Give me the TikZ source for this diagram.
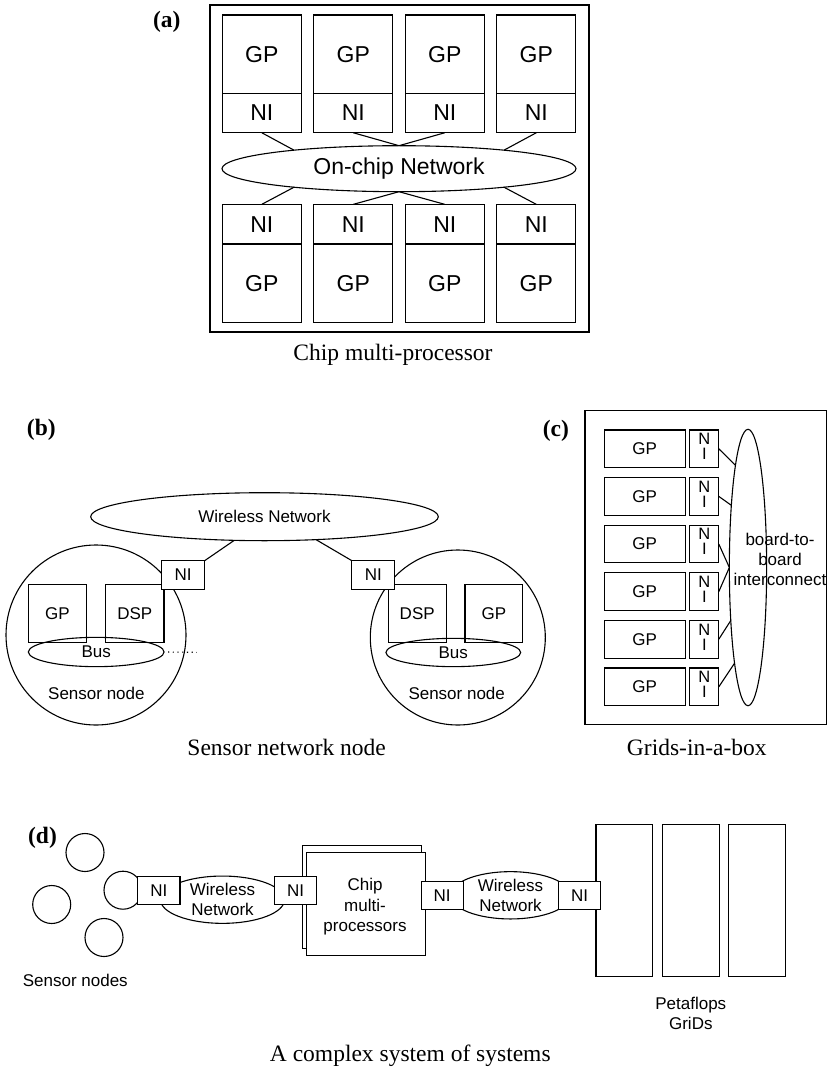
\documentclass[tikz,border=0pt]{standalone}
\usepackage{fontspec}
\setmainfont{Liberation Serif}
\newfontfamily\arialfont{Liberation Sans}
\usetikzlibrary{shapes.geometric,positioning}

\begin{document}
\begin{tikzpicture}[x=1pt,y=-1pt,line width=1.1pt]
  \tikzstyle{box}=[draw,rectangle,fill=white,inner sep=0pt,outer sep=0pt]
  \tikzstyle{net}=[draw,ellipse,inner sep=0pt,outer sep=0pt]
  \tikzstyle{ring}=[draw,circle,inner sep=0pt]
  \tikzstyle{txta}=[font=\arialfont\fontsize{23}{27}\selectfont]
  \tikzstyle{txtb}=[font=\arialfont\fontsize{17}{20}\selectfont,align=center]
  \tikzstyle{nistack}=[font=\arialfont\fontsize{16.5}{15}\selectfont,align=center,text depth=4.4pt]
  \tikzstyle{capt}=[font=\fontsize{23.5}{28}\selectfont]
  \tikzstyle{panel}=[font=\bfseries\fontsize{23.5}{28}\selectfont]
  \useasboundingbox (0,0) rectangle (828,1067);

  % (a) chip multi-processor
  \node[panel] (lbl_a) at (166.7,22) {(a)};
  \draw[line width=1.5pt] (210,5) rectangle (589,332);
  \foreach \i/\x in {1/261.8,2/353.3,3/444.8,4/536.3} {
    \node[box,txta,minimum width=79pt,minimum height=78.3pt] (gp_t\i) at (\x,54.2) {GP};
    \node[box,txta,minimum width=79pt,minimum height=39.4pt,below=0pt of gp_t\i] (ni_t\i) {NI};
    \node[box,txta,minimum width=79pt,minimum height=39.7pt] (ni_b\i) at (\x,224.2) {NI};
    \node[box,txta,minimum width=79pt,minimum height=78.3pt,below=0pt of ni_b\i] (gp_b\i) {GP};
  }
  \node[net,txta,minimum width=354pt,minimum height=46pt] (onchip) at (399,168.7) {On-chip Network};
  \path (ni_t1.south) edge (onchip.170)
        (ni_t2.south) edge (onchip.north)
        (ni_t3.south) edge (onchip.north)
        (ni_t4.south) edge (onchip.10)
        (ni_b1.north) edge (onchip.190)
        (ni_b2.north) edge (onchip.south)
        (ni_b3.north) edge (onchip.south)
        (ni_b4.north) edge (onchip.350);
  \node[capt] (cap_a) at (393,355) {Chip multi-processor};

  % (b) sensor network node
  \node[panel] (lbl_b) at (41.3,430) {(b)};
  \node[ring,minimum size=180pt] (sn_l) at (96,635) {};
  \node[ring,minimum size=175pt] (sn_r) at (457.8,637.5) {};
  \node[box,txtb,minimum width=58.3pt,minimum height=58pt] (gp_l) at (57.5,613.3) {GP};
  \node[box,txtb,minimum width=58.3pt,minimum height=58pt] (dsp_l) at (134.8,613.3) {DSP};
  \node[box,txtb,minimum width=57.7pt,minimum height=58pt] (dsp_r) at (417.2,613.3) {DSP};
  \node[box,txtb,minimum width=57.7pt,minimum height=58pt] (gp_r) at (493.8,613.3) {GP};
  \node[net,txtb,minimum width=135.7pt,minimum height=29.3pt] (bus_l) at (96.2,652) {Bus};
  \node[net,txtb,minimum width=134.7pt,minimum height=28.3pt] (bus_r) at (453.3,652.5) {Bus};
  \node[txtb] (sn_ltxt) at (96.4,693.3) {Sensor node};
  \node[txtb] (sn_rtxt) at (456.7,693.3) {Sensor node};
  \node[box,txtb,minimum width=43pt,minimum height=28.7pt] (ni_l) at (183.2,575) {NI};
  \node[box,txtb,minimum width=43pt,minimum height=28.7pt] (ni_r) at (373.3,575) {NI};
  \node[net,txtb,minimum width=347.6pt,minimum height=48pt] (wless) at (264.5,516.7) {Wireless Network};
  \path (ni_l.north east) edge (wless.218)
        (ni_r.north west) edge (wless.336);
  \coordinate (dots_end) at (196.7,652.3);
  \draw[dash pattern=on 1.2pt off 3.5pt,shorten <=4pt] (bus_l.east) -- (dots_end);
  \node[capt] (cap_b) at (286.7,747.5) {Sensor network node};

  % (c) grids-in-a-box
  \node[panel] (lbl_c) at (555.8,431) {(c)};
  \draw[line width=1.5pt] (585,410.7) rectangle (826.5,724.3);
  \node[net,minimum width=37.3pt,minimum height=276.4pt] (b2b) at (748,567.5) {};
  \foreach \i/\y in {1/448.8,2/496.4,3/544,4/591.6,5/639.2,6/686.8} {
    \node[box,txtb,minimum width=81.3pt,minimum height=37.7pt] (gp_c\i) at (644.7,\y) {GP};
    \node[box,nistack,minimum width=29pt,minimum height=37.7pt] (ni_c\i) at (704.3,\y) {N\\I};
  }
  \node[txtb] (b2b_txt) at (780,559.5) {board-to-\\board\\interconnect};
  \path (ni_c1.east) edge (b2b.97)
        (ni_c2.east) edge (b2b.105)
        (ni_c3.east) edge (b2b.west)
        (ni_c4.east) edge (b2b.west)
        (ni_c5.east) edge (b2b.252)
        (ni_c6.east) edge (b2b.262);
  \node[capt] (cap_c) at (696.8,747.5) {Grids-in-a-box};

  % (d) system of systems
  \node[panel] (lbl_d) at (42.5,837.5) {(d)};
  \foreach \n/\x/\y in {1/85/852.5,2/51.7/904.5,3/123/890.2,4/104/937.5}
    \node[ring,minimum size=38pt] (sn_d\n) at (\x,\y) {};
  \node[txtb] (sn_dtxt) at (75.3,980) {Sensor nodes};
  \node[net,txtb,minimum width=124pt,minimum height=47.3pt] (wl_1) at (222.5,899.7) {Wireless\\Network};
  \node[net,txtb,minimum width=120pt,minimum height=47.3pt] (wl_2) at (510.5,895.3) {Wireless\\Network};
  \node[box,minimum width=119.4pt,minimum height=102.6pt] (cmp_back) at (362,897) {};
  \node[box,minimum width=119pt,minimum height=102.7pt] (cmp_front) at (366.2,903.7) {};
  \node[txtb,font=\arialfont\fontsize{17}{20.5}\selectfont] (cmp_txt) at (365,907) {Chip\\multi-\\processors};
  \foreach \k/\x in {1/624.3,2/690.7,3/757}
    \node[box,minimum width=56.7pt,minimum height=151.7pt] (peta_\k) at (\x,900.2) {};
  \node[txtb] (peta_txt) at (690.8,1013) {Petaflops\\GriDs};
  \node[box,txtb,minimum width=42.3pt,minimum height=28.3pt] (ni_d1) at (158.8,890.2) {NI};
  \node[box,txtb,minimum width=42.3pt,minimum height=28.3pt] (ni_d2) at (295.5,890.2) {NI};
  \node[box,txtb,minimum width=42.3pt,minimum height=28.3pt] (ni_d3) at (442.2,895.2) {NI};
  \node[box,txtb,minimum width=42.3pt,minimum height=28.3pt] (ni_d4) at (579.5,895.2) {NI};
  \node[capt] (cap_d) at (410.3,1056) {A complex system of systems};
\end{tikzpicture}
\end{document}
